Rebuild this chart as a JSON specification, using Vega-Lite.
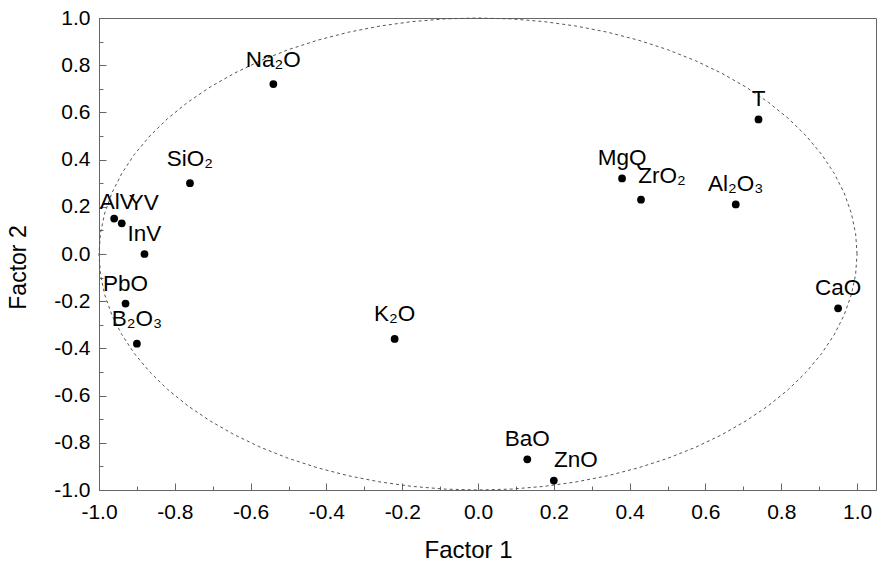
{
  "$schema": "https://vega.github.io/schema/vega-lite/v6.json",
  "width": 777,
  "height": 472,
  "autosize": {"type": "none"},
  "padding": {"left": 99, "top": 18, "right": 1, "bottom": 76},
  "background": "white",
  "config": {
    "view": {"stroke": "#666666", "strokeWidth": 1},
    "font": "Liberation Sans"
  },
  "datasets": {
    "pts": [
      {"name": "Na₂O", "x": -0.54, "y": 0.72},
      {"name": "SiO₂", "x": -0.76, "y": 0.30},
      {"name": "AlV", "x": -0.96, "y": 0.15},
      {"name": "YV", "x": -0.94, "y": 0.13},
      {"name": "InV", "x": -0.88, "y": 0.0},
      {"name": "PbO", "x": -0.93, "y": -0.21},
      {"name": "B₂O₃", "x": -0.90, "y": -0.38},
      {"name": "K₂O", "x": -0.22, "y": -0.36},
      {"name": "BaO", "x": 0.13, "y": -0.87},
      {"name": "ZnO", "x": 0.20, "y": -0.96},
      {"name": "MgQ", "x": 0.38, "y": 0.32},
      {"name": "ZrO₂", "x": 0.43, "y": 0.23},
      {"name": "Al₂O₃", "x": 0.68, "y": 0.21},
      {"name": "CaO", "x": 0.95, "y": -0.23},
      {"name": "T", "x": 0.74, "y": 0.57}
    ],
    "ellipse": [
      {"i": 0, "x": 1.0, "y": 0.0},
      {"i": 1, "x": 0.9962, "y": 0.0872},
      {"i": 2, "x": 0.9848, "y": 0.1736},
      {"i": 3, "x": 0.9659, "y": 0.2588},
      {"i": 4, "x": 0.9397, "y": 0.342},
      {"i": 5, "x": 0.9063, "y": 0.4226},
      {"i": 6, "x": 0.866, "y": 0.5},
      {"i": 7, "x": 0.8192, "y": 0.5736},
      {"i": 8, "x": 0.766, "y": 0.6428},
      {"i": 9, "x": 0.7071, "y": 0.7071},
      {"i": 10, "x": 0.6428, "y": 0.766},
      {"i": 11, "x": 0.5736, "y": 0.8192},
      {"i": 12, "x": 0.5, "y": 0.866},
      {"i": 13, "x": 0.4226, "y": 0.9063},
      {"i": 14, "x": 0.342, "y": 0.9397},
      {"i": 15, "x": 0.2588, "y": 0.9659},
      {"i": 16, "x": 0.1736, "y": 0.9848},
      {"i": 17, "x": 0.0872, "y": 0.9962},
      {"i": 18, "x": 0.0, "y": 1.0},
      {"i": 19, "x": -0.0872, "y": 0.9962},
      {"i": 20, "x": -0.1736, "y": 0.9848},
      {"i": 21, "x": -0.2588, "y": 0.9659},
      {"i": 22, "x": -0.342, "y": 0.9397},
      {"i": 23, "x": -0.4226, "y": 0.9063},
      {"i": 24, "x": -0.5, "y": 0.866},
      {"i": 25, "x": -0.5736, "y": 0.8192},
      {"i": 26, "x": -0.6428, "y": 0.766},
      {"i": 27, "x": -0.7071, "y": 0.7071},
      {"i": 28, "x": -0.766, "y": 0.6428},
      {"i": 29, "x": -0.8192, "y": 0.5736},
      {"i": 30, "x": -0.866, "y": 0.5},
      {"i": 31, "x": -0.9063, "y": 0.4226},
      {"i": 32, "x": -0.9397, "y": 0.342},
      {"i": 33, "x": -0.9659, "y": 0.2588},
      {"i": 34, "x": -0.9848, "y": 0.1736},
      {"i": 35, "x": -0.9962, "y": 0.0872},
      {"i": 36, "x": -1.0, "y": 0.0},
      {"i": 37, "x": -0.9962, "y": -0.0872},
      {"i": 38, "x": -0.9848, "y": -0.1736},
      {"i": 39, "x": -0.9659, "y": -0.2588},
      {"i": 40, "x": -0.9397, "y": -0.342},
      {"i": 41, "x": -0.9063, "y": -0.4226},
      {"i": 42, "x": -0.866, "y": -0.5},
      {"i": 43, "x": -0.8192, "y": -0.5736},
      {"i": 44, "x": -0.766, "y": -0.6428},
      {"i": 45, "x": -0.7071, "y": -0.7071},
      {"i": 46, "x": -0.6428, "y": -0.766},
      {"i": 47, "x": -0.5736, "y": -0.8192},
      {"i": 48, "x": -0.5, "y": -0.866},
      {"i": 49, "x": -0.4226, "y": -0.9063},
      {"i": 50, "x": -0.342, "y": -0.9397},
      {"i": 51, "x": -0.2588, "y": -0.9659},
      {"i": 52, "x": -0.1736, "y": -0.9848},
      {"i": 53, "x": -0.0872, "y": -0.9962},
      {"i": 54, "x": 0.0, "y": -1.0},
      {"i": 55, "x": 0.0872, "y": -0.9962},
      {"i": 56, "x": 0.1736, "y": -0.9848},
      {"i": 57, "x": 0.2588, "y": -0.9659},
      {"i": 58, "x": 0.342, "y": -0.9397},
      {"i": 59, "x": 0.4226, "y": -0.9063},
      {"i": 60, "x": 0.5, "y": -0.866},
      {"i": 61, "x": 0.5736, "y": -0.8192},
      {"i": 62, "x": 0.6428, "y": -0.766},
      {"i": 63, "x": 0.7071, "y": -0.7071},
      {"i": 64, "x": 0.766, "y": -0.6428},
      {"i": 65, "x": 0.8192, "y": -0.5736},
      {"i": 66, "x": 0.866, "y": -0.5},
      {"i": 67, "x": 0.9063, "y": -0.4226},
      {"i": 68, "x": 0.9397, "y": -0.342},
      {"i": 69, "x": 0.9659, "y": -0.2588},
      {"i": 70, "x": 0.9848, "y": -0.1736},
      {"i": 71, "x": 0.9962, "y": -0.0872},
      {"i": 72, "x": 1.0, "y": 0.0}
    ]
  },
  "encoding": {
    "x": {
      "field": "x",
      "type": "quantitative",
      "scale": {"domain": [-1, 1.05], "nice": false, "zero": false},
      "axis": {
        "title": "Factor 1",
        "titleFont": "Liberation Sans",
        "titleFontSize": 24,
        "titleFontWeight": "normal",
        "titleColor": "black",
        "titleX": 369,
        "titleY": 67,
        "titleBaseline": "alphabetic",
        "titleAlign": "center",
        "values": [-1, -0.9, -0.8, -0.7, -0.6, -0.5, -0.4, -0.3, -0.2, -0.1, 0, 0.1, 0.2, 0.3, 0.4, 0.5, 0.6, 0.7, 0.8, 0.9, 1],
        "labelExpr": "abs(round(datum.value*10)) % 2 == 1 ? '' : (datum.value < -0.001 ? '-' : '') + format(abs(datum.value), '.1f')",
        "labelFont": "Liberation Sans",
        "labelFontSize": 21,
        "labelColor": "black",
        "labelPadding": 18,
        "labelFlush": false,
        "labelOverlap": false,
        "labelBound": false,
        "grid": false,
        "domainColor": "#666666",
        "domainWidth": 1,
        "tickColor": "#666666",
        "tickWidth": 1,
        "tickSize": {"condition": {"test": "abs(round(datum.value*10)) % 2 == 1", "value": -4}, "value": -7}
      }
    },
    "y": {
      "field": "y",
      "type": "quantitative",
      "scale": {"domain": [-1, 1], "nice": false, "zero": false},
      "axis": {
        "title": "Factor 2",
        "titleFont": "Liberation Sans",
        "titleFontSize": 23,
        "titleFontWeight": "normal",
        "titleColor": "black",
        "titleX": -74,
        "titleY": 249,
        "titleAngle": -90,
        "titleBaseline": "alphabetic",
        "titleAlign": "center",
        "values": [-1, -0.9, -0.8, -0.7, -0.6, -0.5, -0.4, -0.3, -0.2, -0.1, 0, 0.1, 0.2, 0.3, 0.4, 0.5, 0.6, 0.7, 0.8, 0.9, 1],
        "labelExpr": "abs(round(datum.value*10)) % 2 == 1 ? '' : (datum.value < -0.001 ? '-' : '') + format(abs(datum.value), '.1f')",
        "labelFont": "Liberation Sans",
        "labelFontSize": 21,
        "labelColor": "black",
        "labelPadding": 16,
        "labelFlush": false,
        "labelOverlap": false,
        "labelBound": false,
        "grid": false,
        "domainColor": "#666666",
        "domainWidth": 1,
        "tickColor": "#666666",
        "tickWidth": 1,
        "tickSize": {"condition": {"test": "abs(round(datum.value*10)) % 2 == 1", "value": -4}, "value": -7}
      }
    }
  },
  "layer": [
    {
      "data": {"name": "ellipse"},
      "mark": {"type": "line", "color": "#555555", "strokeWidth": 1, "strokeDash": [3, 3], "clip": false},
      "encoding": {"order": {"field": "i", "type": "quantitative"}}
    },
    {
      "data": {"name": "pts"},
      "mark": {"type": "point", "filled": true, "color": "black", "size": 60, "opacity": 1, "shape": "circle"}
    },
    {
      "data": {"name": "pts"},
      "transform": [{"filter": {"field": "name", "oneOf": ["InV", "PbO", "BaO", "MgQ", "Al₂O₃", "CaO", "T"]}}],
      "mark": {"type": "text", "font": "Liberation Sans", "fontSize": 22.5, "color": "black", "align": "center", "baseline": "alphabetic", "dy": -13},
      "encoding": {"text": {"field": "name"}}
    },
    {
      "data": {"name": "pts"},
      "transform": [{"filter": {"field": "name", "oneOf": ["Na₂O", "SiO₂", "B₂O₃", "K₂O"]}}],
      "mark": {"type": "text", "font": "Liberation Sans", "fontSize": 22.5, "color": "black", "align": "center", "baseline": "alphabetic", "dy": -17.5},
      "encoding": {"text": {"field": "name"}}
    },
    {
      "data": {"name": "pts"},
      "transform": [{"filter": {"field": "name", "oneOf": ["YV", "ZnO"]}}],
      "mark": {"type": "text", "font": "Liberation Sans", "fontSize": 22.5, "color": "black", "align": "center", "baseline": "alphabetic", "dx": 22, "dy": -13.5},
      "encoding": {"text": {"field": "name"}}
    },
    {
      "data": {"name": "pts"},
      "transform": [{"filter": {"field": "name", "oneOf": ["ZrO₂"]}}],
      "mark": {"type": "text", "font": "Liberation Sans", "fontSize": 22.5, "color": "black", "align": "center", "baseline": "alphabetic", "dx": 21, "dy": -17},
      "encoding": {"text": {"field": "name"}}
    },
    {
      "data": {"name": "pts"},
      "transform": [{"filter": {"field": "name", "oneOf": ["AlV"]}}],
      "mark": {"type": "text", "font": "Liberation Sans", "fontSize": 22.5, "color": "black", "align": "center", "baseline": "alphabetic", "dx": 3, "dy": -10},
      "encoding": {"text": {"field": "name"}}
    }
  ]
}
